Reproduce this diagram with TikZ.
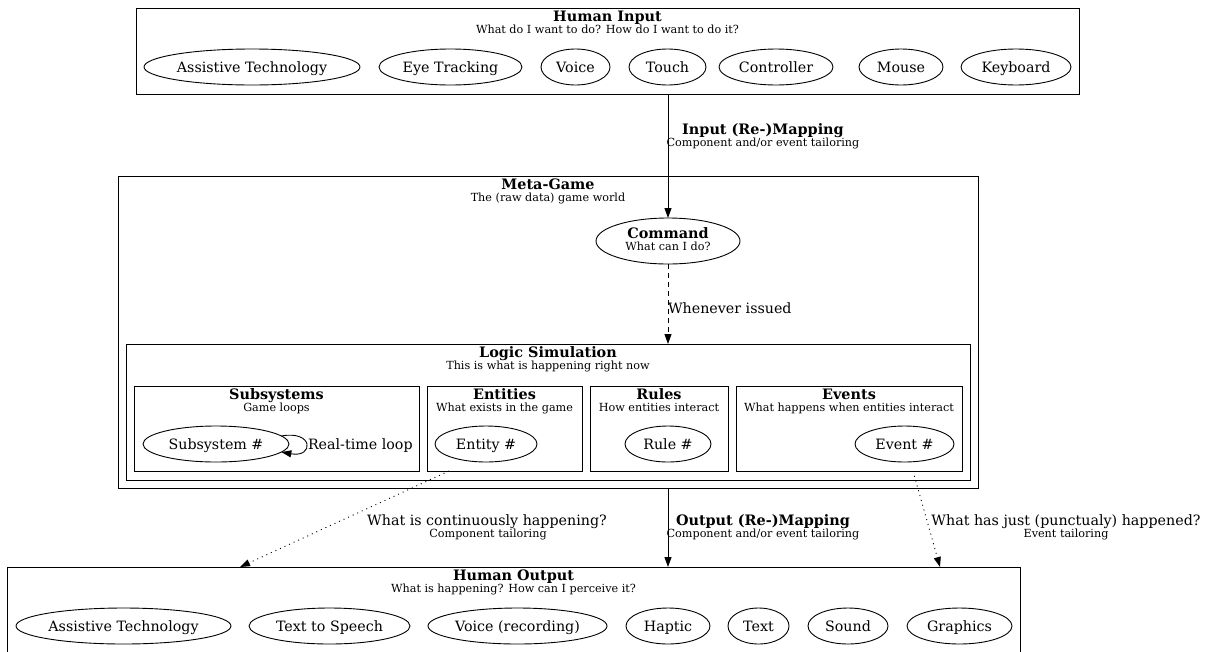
\documentclass[tikz,border=0pt]{standalone}
\usepackage{fontspec}
\setmainfont{DejaVu Serif}
\usetikzlibrary{shapes.geometric,arrows.meta,calc}
\begin{document}
\begin{tikzpicture}[x=1pt,y=-1pt,
  every node/.style={inner sep=0pt, outer sep=0pt},
  bodytext/.style={font=\fontsize{14.25}{16}\selectfont, anchor=base},
  titletext/.style={font=\fontsize{14.4}{16}\selectfont\bfseries, anchor=base},
  subtext/.style={font=\fontsize{11.2}{12}\selectfont, anchor=base},
  item/.style={ellipse, draw, line width=0.9pt, minimum height=36pt,
    text height=10pt, text depth=0pt, font=\fontsize{14.25}{16}\selectfont},
  cluster/.style={draw, line width=0.9pt, rectangle, anchor=north west},
  arrowto/.style={line width=0.9pt, -{Triangle[length=10pt,width=7pt]}},
  dotline/.style={arrowto, dash pattern=on 1pt off 4pt},
  dashline/.style={arrowto, dash pattern=on 5pt off 4pt},
]
\clip (0,0) rectangle (1206,651);
\fill[white] (0,0) rectangle (1206,651);

% ---------- Human Input ----------
\node[cluster, minimum width=943pt, minimum height=86pt] (hin) at (136,8) {};
\node[titletext] at ($(hin.north)+(0,13.5)$) {Human Input};
\node[subtext] at ($(hin.north)+(0,25)$) {What do I want to do? How do I want to do it?};
\node[item, minimum width=216pt] (in-at)  at (252,67)  {Assistive Technology};
\node[item, minimum width=143pt] (in-eye) at (450.5,67) {Eye Tracking};
\node[item, minimum width=69pt]  (in-voice) at (575.5,67) {Voice};
\node[item, minimum width=77pt]  (in-touch) at (667.5,67) {Touch};
\node[item, minimum width=114pt] (in-ctrl) at (776,67)  {Controller};
\node[item, minimum width=84pt]  (in-mouse) at (901,67) {Mouse};
\node[item, minimum width=110pt] (in-kbd) at (1016,67)  {Keyboard};

% ---------- Meta-Game ----------
\node[cluster, minimum width=860pt, minimum height=312pt] (meta) at (118,176) {};
\node[titletext] at ($(meta.north)+(0,13.5)$) {Meta-Game};
\node[subtext] at ($(meta.north)+(0,25)$) {The (raw data) game world};

\node[ellipse, draw, line width=0.9pt, minimum width=144pt, minimum height=46pt] (cmd) at (668,241) {};
\node[titletext] at ($(cmd.center)+(0,-2.5)$) {Command};
\node[subtext] at ($(cmd.center)+(0,9)$) {What can I do?};

% ---------- Logic Simulation ----------
\node[cluster, minimum width=844pt, minimum height=136pt] (logic) at (126,344) {};
\node[titletext] at ($(logic.north)+(0,13.5)$) {Logic Simulation};
\node[subtext] at ($(logic.north)+(0,25)$) {This is what is happening right now};

\node[cluster, minimum width=285pt, minimum height=85pt] (subsys) at (134,386) {};
\node[titletext] at ($(subsys.north)+(0,13.5)$) {Subsystems};
\node[subtext] at ($(subsys.north)+(0,25)$) {Game loops};
\node[item, minimum width=146pt] (sub) at (216,444) {Subsystem \#};

\node[cluster, minimum width=155pt, minimum height=85pt] (ent) at (427,386) {};
\node[titletext] at ($(ent.north)+(0,13.5)$) {Entities};
\node[subtext] at ($(ent.north)+(0,25)$) {What exists in the game};
\node[item, minimum width=102pt] (entity) at (486,444) {Entity \#};

\node[cluster, minimum width=138pt, minimum height=85pt] (rules) at (590,386) {};
\node[titletext] at ($(rules.north)+(0,13.5)$) {Rules};
\node[subtext] at ($(rules.north)+(0,25)$) {How entities interact};
\node[item, minimum width=86pt] (rule) at (668,444) {Rule \#};

\node[cluster, minimum width=226pt, minimum height=85pt] (evts) at (736,386) {};
\node[titletext] at ($(evts.north)+(0,13.5)$) {Events};
\node[subtext] at ($(evts.north)+(0,25)$) {What happens when entities interact};
\node[item, minimum width=99pt] (event) at (904.5,444) {Event \#};

% ---------- Human Output ----------
\node[cluster, minimum width=1013pt, minimum height=100pt] (hout) at (7,567) {};
\node[titletext] at ($(hout.north)+(0,13.5)$) {Human Output};
\node[subtext] at ($(hout.north)+(0,25)$) {What is happening? How can I perceive it?};
\node[item, minimum width=215pt] (out-at)  at (123.5,626) {Assistive Technology};
\node[item, minimum width=161pt] (out-tts) at (329.5,626) {Text to Speech};
\node[item, minimum width=179pt] (out-voice) at (517.5,626) {Voice (recording)};
\node[item, minimum width=84pt]  (out-haptic) at (668,626) {Haptic};
\node[item, minimum width=61pt]  (out-text) at (758.5,626) {Text};
\node[item, minimum width=80pt]  (out-sound) at (848,626) {Sound};
\node[item, minimum width=105pt] (out-gfx) at (959.5,626) {Graphics};

% ---------- Connectors ----------
\draw[arrowto] (hin.south -| cmd.north) -- (cmd.north);
\node[titletext] at (763,134) {Input (Re-)Mapping};
\node[subtext] at (763,146) {Component and/or event tailoring};

\draw[dashline] (cmd.south) -- (logic.north -| cmd.south);
\node[bodytext, anchor=base west] at (668,313) {Whenever issued};

\draw[arrowto] (sub.7) .. controls (314,430) and (314,458) .. (sub.-7);
\node[bodytext, anchor=base west] at (308,449) {Real-time loop};

\draw[arrowto] (meta.south -| cmd.south) -- (hout.north -| cmd.south);
\node[titletext] at (763,525) {Output (Re-)Mapping};
\node[subtext] at (763,537) {Component and/or event tailoring};

\draw[dotline] ($(ent.south west)+(22,0)$) -- ($(hout.north west)+(233,0)$);
\node[bodytext] at (487,525) {What is continuously happening?};
\node[subtext] at (488,537) {Component tailoring};

\draw[dotline] ($(evts.south west)+(177,0)$) -- ($(hout.north west)+(933,0)$);
\node[bodytext] at (1066,525) {What has just (punctualy) happened?};
\node[subtext] at (1066,537) {Event tailoring};
\end{tikzpicture}
\end{document}
